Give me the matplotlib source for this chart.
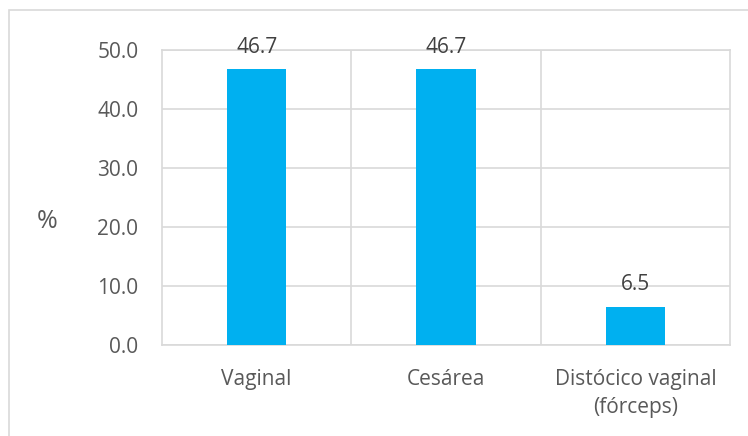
import matplotlib.pyplot as plt
from matplotlib.patches import Rectangle

categories = ["Vaginal", "Cesárea", "Distócico vaginal\n(fórceps)"]
values = [46.7, 46.7, 6.5]
yticks = [0, 10, 20, 30, 40, 50]

grid_color = "#d9d9d9"
text_color = "#595959"
bar_color = "#00b0f0"

plt.rcParams["font.family"] = ["Open Sans", "DejaVu Sans"]

fig = plt.figure(figsize=(7.48, 4.36), dpi=100)
ax = fig.add_axes([162 / 748, 1 - 345 / 436, 568 / 748, 295 / 436])

x = list(range(len(categories)))
ax.bar(x, values, width=0.313, color=bar_color, zorder=3)

for xi, v in zip(x, values):
    ax.annotate("%.1f" % v, (xi, v), xytext=(0, 12), textcoords="offset points",
                ha="center", va="baseline", fontsize=15, color="#404040")

ax.set_xlim(-0.5, len(categories) - 0.5)
ax.set_ylim(0, 50)
ax.set_yticks(yticks)
ax.set_yticklabels(["%.1f" % t for t in yticks])
ax.set_xticks(x)
ax.set_xticklabels(categories, linespacing=1.45)

# category boundaries as vertical grid lines
ax.set_xticks([i + 0.5 for i in x[:-1]], minor=True)
ax.grid(axis="x", which="minor", color=grid_color, linewidth=1.2, zorder=0)
ax.grid(axis="y", which="major", color=grid_color, linewidth=1.2, zorder=0)

for s in ax.spines.values():
    s.set_color(grid_color)
    s.set_linewidth(1.2)

ax.tick_params(axis="both", which="both", length=0, labelsize=15, colors=text_color)
ax.tick_params(axis="y", pad=17)
ax.tick_params(axis="x", pad=17)

fig.text(47 / 748, 1 - 222 / 436, "%", fontsize=18, color=text_color,
         ha="center", va="center")

fig.patches.append(Rectangle((9 / 748, -0.1), 2, 1 - 10 / 436 + 0.1,
                             transform=fig.transFigure, fill=False,
                             edgecolor=grid_color, linewidth=1.2))

fig.savefig("out.png", dpi=100)
